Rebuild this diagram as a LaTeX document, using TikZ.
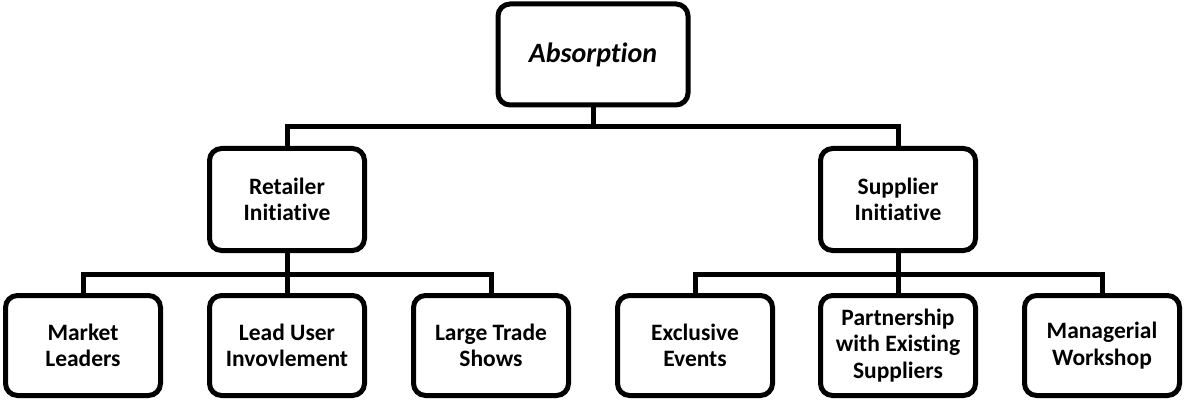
\documentclass[tikz,border=0pt]{standalone}
\usepackage{fontspec}
\setmainfont{Carlito}[Ligatures={NoCommon}]
\begin{document}
\begin{tikzpicture}[x=1pt,y=-1pt,
  box/.style={draw=black,line width=5pt,rounded corners=12pt,fill=white,
    align=center,inner sep=0pt,font=\fontsize{23.5}{26.5}\selectfont\bfseries},
  leaf/.style={box,minimum width=155pt,minimum height=100pt},
  mid/.style={box,minimum width=155pt,minimum height=102pt},
  link/.style={line width=5pt,line join=miter}]
\useasboundingbox (0,0) rectangle (1184,401);
% tree nodes
\node[box,minimum width=190pt,minimum height=101pt,font=\fontsize{28}{32}\selectfont\bfseries\itshape] (top) at (593,54.5) {Absorption};
\node[mid] (ret) at (287,199.5) {Retailer\\Initiative};
\node[mid] (sup) at (898,199.5) {Supplier\\Initiative};
\node[leaf] (ml) at (83,345.5) {Market\\Leaders};
\node[leaf] (lu) at (287,345.5) {Lead User\\Invovlement};
\node[leaf] (lt) at (491,345.5) {Large Trade\\Shows};
\node[leaf] (ee) at (695,345.5) {Exclusive\\Events};
\node[leaf] (pe) at (898,345.5) {Partnership\\with Existing\\Suppliers};
\node[leaf] (mw) at (1102,345.5) {Managerial\\Workshop};
% bus points of the connectors
\coordinate (bus1) at (593,127);
\coordinate (bus2) at (287,274);
\coordinate (bus3) at (898,274);
% connectors
\draw[link] (top.south) -- (bus1);
\draw[link] (ret.north) |- (bus1) -| (sup.north);
\draw[link] (ret.south) -- (lu.north);
\draw[link] (ml.north) |- (bus2) -| (lt.north);
\draw[link] (sup.south) -- (pe.north);
\draw[link] (ee.north) |- (bus3) -| (mw.north);
\end{tikzpicture}
\end{document}
